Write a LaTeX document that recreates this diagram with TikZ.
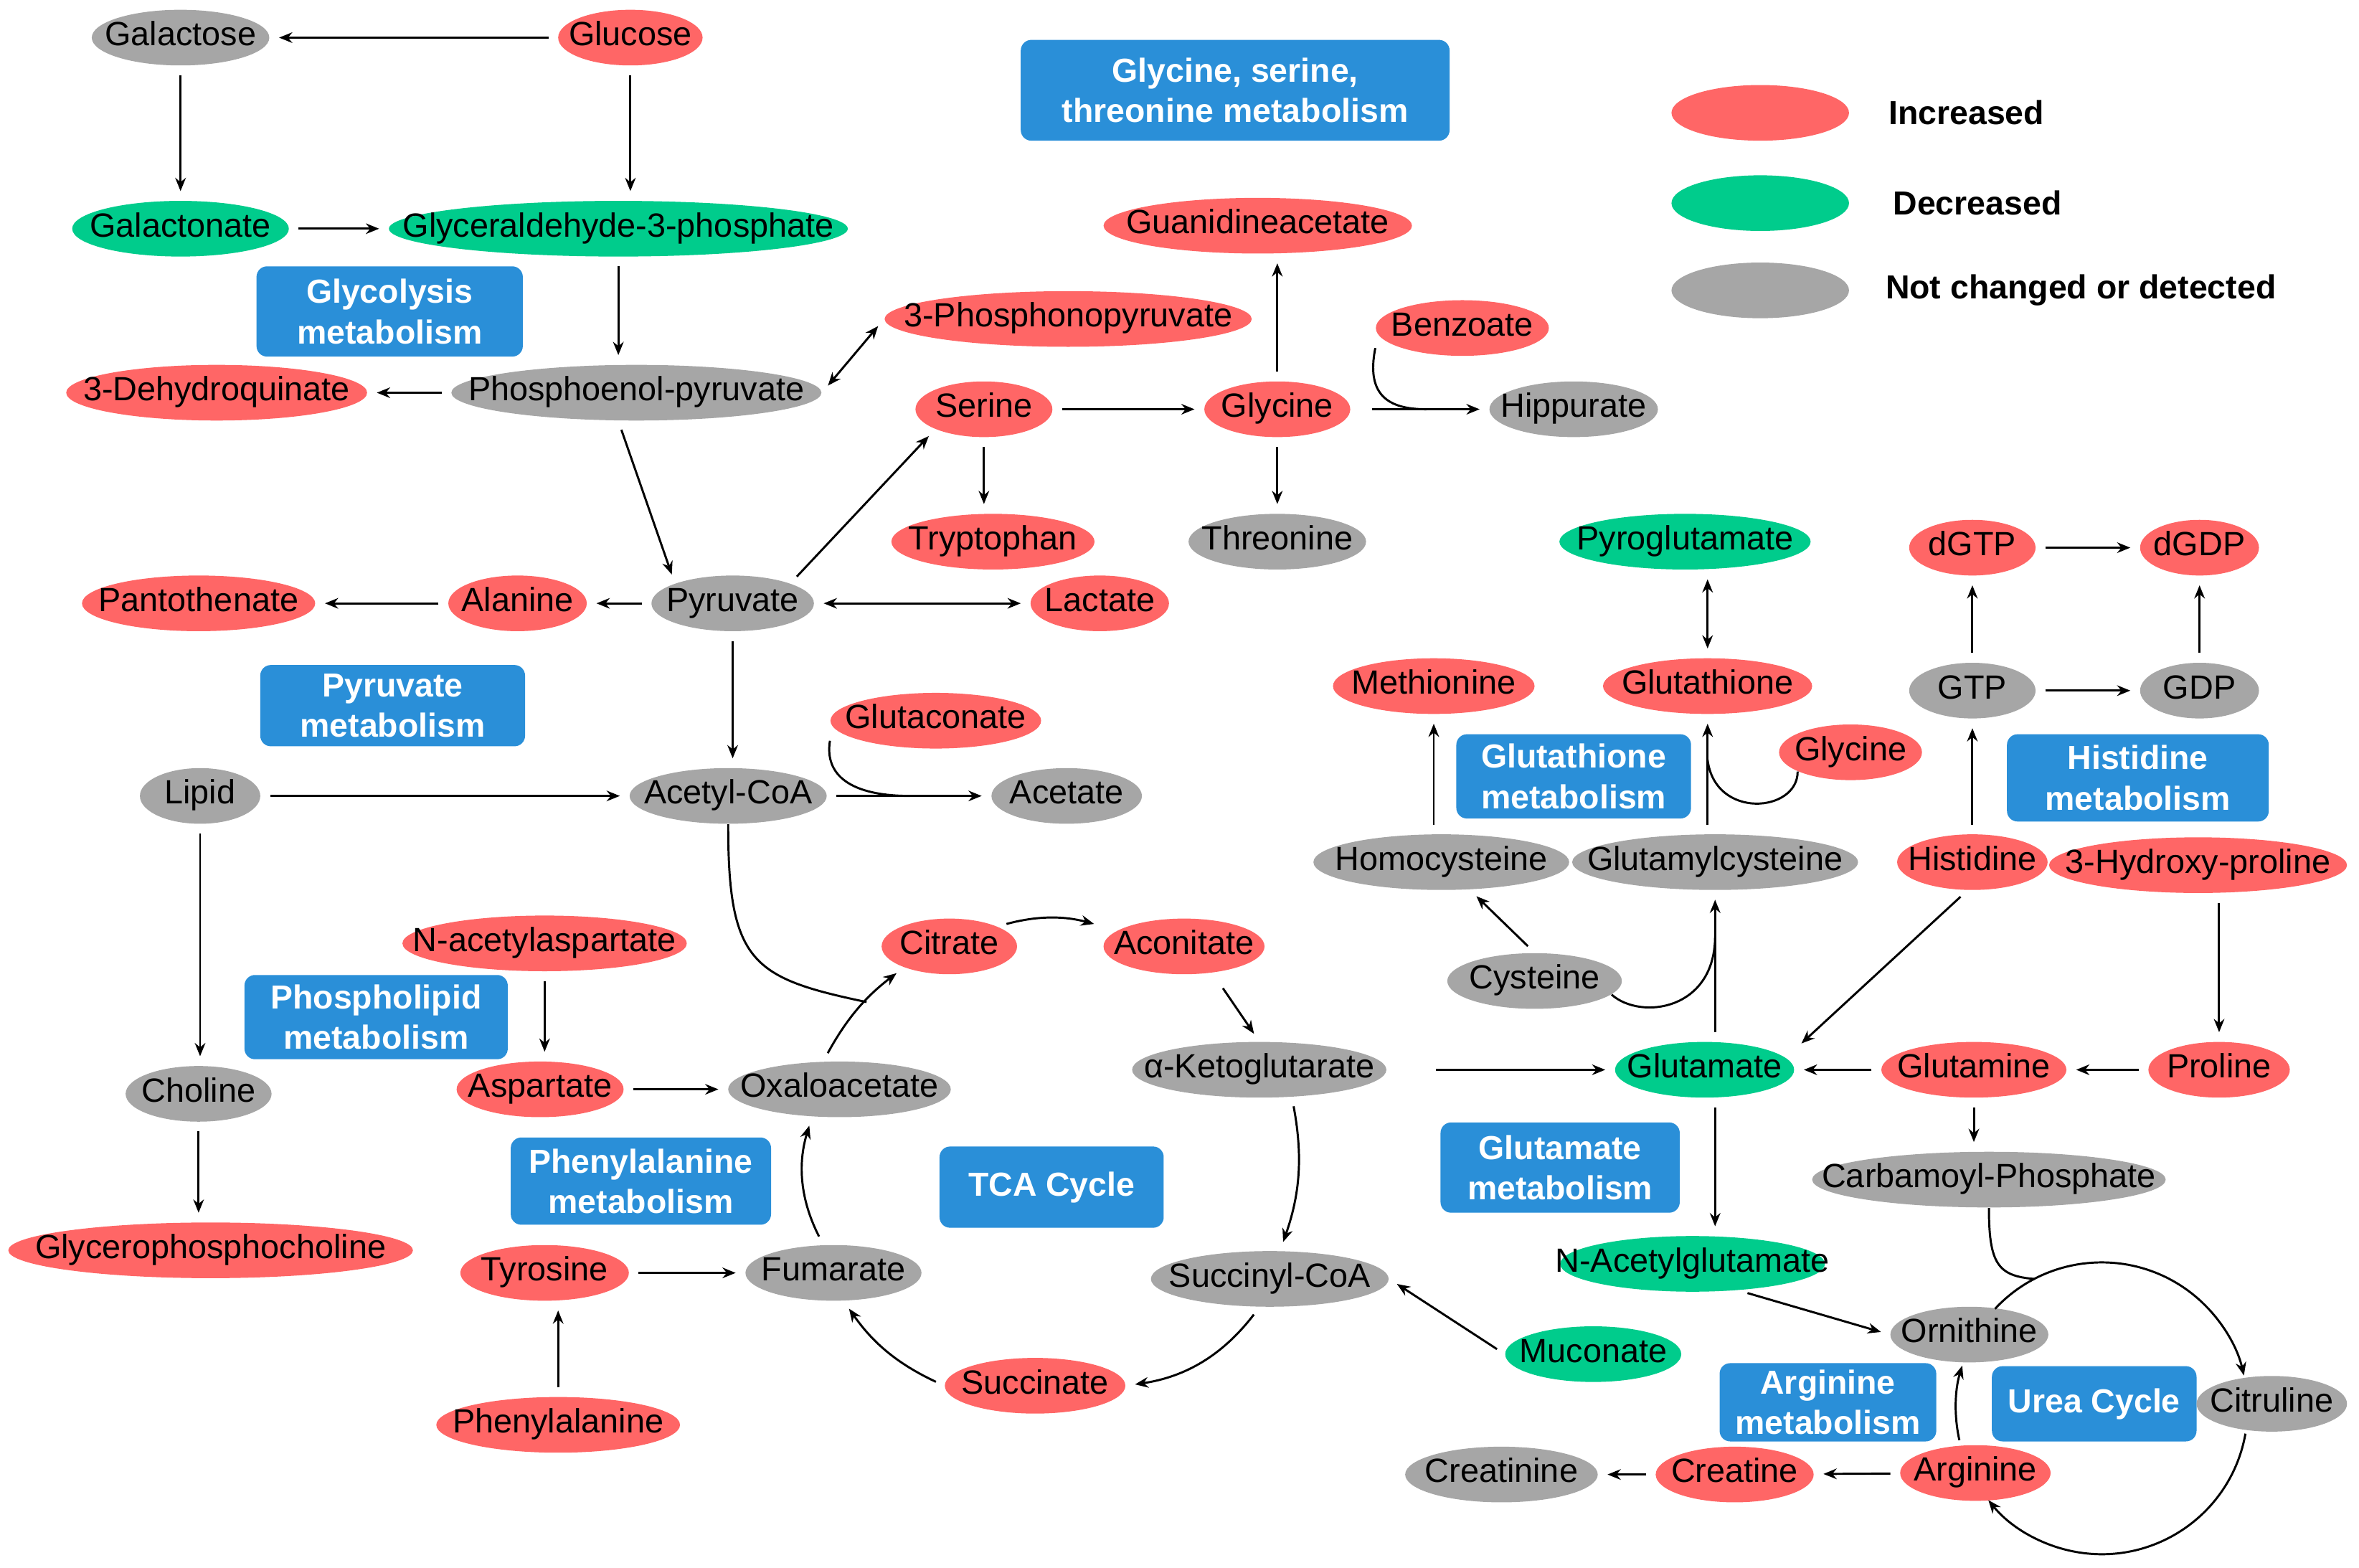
\documentclass[tikz,border=0pt]{standalone}
\usepackage{fontspec}
\setmainfont{Liberation Sans}
\usepackage{tikz}
\usetikzlibrary{arrows.meta,shapes.geometric}
\definecolor{mbUp}{RGB}{255,102,102}
\definecolor{mbDown}{RGB}{0,204,140}
\definecolor{mbFlat}{RGB}{166,166,166}
\definecolor{mbPath}{RGB}{42,143,216}
\newcommand{\metfont}{\fontsize{12.7}{15}\selectfont}
\newcommand{\pathfont}{\bfseries\fontsize{12.6}{15.3}\selectfont}

\begin{document}
\begin{tikzpicture}[x=0.02cm,y=-0.02cm,
    met/.style={ellipse, inner sep=0pt, minimum height=0.74cm, text height=1.6ex, text depth=0.45ex, font=\metfont,
        execute at begin node={\hbox to 0pt\bgroup\hss}, execute at end node={\hss\egroup}},
    ew/.style={minimum width=#1*0.02cm},
    incr/.style={met, fill=mbUp, ew=#1},
    decr/.style={met, fill=mbDown, ew=#1},
    nochg/.style={met, fill=mbFlat, ew=#1},
    pbox/.style n args={2}{fill=mbPath, text=white, font=\pathfont, align=center, rounded corners=4pt,
        inner sep=0pt, minimum width=#1*0.02cm, minimum height=#2*0.02cm},
    lgtext/.style={font=\pathfont, inner sep=0pt, anchor=west},
    rx/.style={line width=0.8pt, -{Stealth[length=5pt,width=4pt]}, shorten >=3.5pt, shorten <=3.5pt},
    rxx/.style={rx, {Stealth[length=5pt,width=4pt]}-{Stealth[length=5pt,width=4pt]}},
    cyc/.style={line width=0.8pt, -{Stealth[length=5pt,width=4pt]}},
    lk/.style={line width=0.8pt}]
    \useasboundingbox (0,0) rectangle (1568,1042);

    % legend
    \node[incr=118] (lgup) at (1170,75) {};
    \node[decr=118] (lgdown) at (1170,135) {};
    \node[nochg=118] (lgflat) at (1170,193) {};
    \node[lgtext] (lguptxt) at (1255,75) {Increased};
    \node[lgtext] (lgdowntxt) at (1258,135) {Decreased};
    \node[lgtext] (lgflattxt) at (1253,193) {Not changed or detected};

    % pathway boxes
    \node[pbox={285}{67}] (bxgst) at (821,60) {Glycine, serine,\\threonine metabolism};
    \node[pbox={177}{60}] (bxglyco) at (259,207) {Glycolysis\\metabolism};
    \node[pbox={176}{54}] (bxpyr) at (261,469) {Pyruvate\\metabolism};
    \node[pbox={156}{56}] (bxgsh) at (1046,516) {Glutathione\\metabolism};
    \node[pbox={174}{58}] (bxhis) at (1421,517) {Histidine\\metabolism};
    \node[pbox={175}{56}] (bxpl) at (250,676) {Phospholipid\\metabolism};
    \node[pbox={173}{58}] (bxphe) at (426,785) {Phenylalanine\\metabolism};
    \node[pbox={149}{54}] (bxtca) at (699,789) {TCA Cycle};
    \node[pbox={159}{60}] (bxglu) at (1037,776) {Glutamate\\metabolism};
    \node[pbox={144}{52}] (bxarg) at (1215,932) {Arginine\\metabolism};
    \node[pbox={136}{50}] (bxurea) at (1392,933) {Urea Cycle};

    % glycolysis
    \node[nochg=118] (galactose) at (120,25) {Galactose};
    \node[incr=96] (glucose) at (419,25) {Glucose};
    \node[decr=144] (galactonate) at (120,152) {Galactonate};
    \node[decr=305] (gap) at (411,152) {Glyceraldehyde-3-phosphate};
    \node[nochg=246] (pep) at (423,261) {Phosphoenol-pyruvate};
    \node[incr=200] (dhq) at (144,261) {3-Dehydroquinate};
    \node[incr=244] (ppyr) at (710,212) {3-Phosphonopyruvate};

    % glycine, serine, threonine
    \node[incr=205] (guan) at (836,150) {Guanidineacetate};
    \node[incr=115] (benz) at (972,218) {Benzoate};
    \node[incr=91] (serine) at (654,272) {Serine};
    \node[incr=97] (glycine) at (849,272) {Glycine};
    \node[nochg=112] (hipp) at (1046,272) {Hippurate};
    \node[incr=135] (trp) at (660,360) {Tryptophan};
    \node[nochg=118] (thr) at (849,360) {Threonine};

    % pyruvate
    \node[incr=155] (panto) at (132,401) {Pantothenate};
    \node[incr=92] (ala) at (344,401) {Alanine};
    \node[nochg=108] (pyr) at (487,401) {Pyruvate};
    \node[incr=92] (lac) at (731,401) {Lactate};
    \node[incr=140] (glutacon) at (622,479) {Glutaconate};
    \node[nochg=80] (lipid) at (133,529) {Lipid};
    \node[nochg=131] (accoa) at (484,529) {Acetyl-CoA};
    \node[nochg=100] (acetate) at (709,529) {Acetate};

    % phospholipid
    \node[nochg=97] (choline) at (132,727) {Choline};
    \node[incr=269] (gpc) at (140,831) {Glycerophosphocholine};

    % TCA cycle
    \node[incr=189] (naa) at (362,627) {N-acetylaspartate};
    \node[incr=111] (asp) at (359,724) {Aspartate};
    \node[nochg=148] (oaa) at (558,724) {Oxaloacetate};
    \node[incr=90] (citrate) at (631,629) {Citrate};
    \node[incr=107] (aconitate) at (787,629) {Aconitate};
    \node[nochg=169] (akg) at (837,711) {α-Ketoglutarate};
    \node[nochg=158] (succoa) at (844,850) {Succinyl-CoA};
    \node[incr=120] (succ) at (688,921) {Succinate};
    \node[nochg=117] (fum) at (554,846) {Fumarate};
    \node[incr=112] (tyr) at (362,846) {Tyrosine};
    \node[incr=162] (phe) at (371,947) {Phenylalanine};
    \node[decr=117] (mucon) at (1059,900) {Muconate};

    % glutathione, glutamate
    \node[decr=167] (pyroglu) at (1120,360) {Pyroglutamate};
    \node[incr=134] (met) at (953,456) {Methionine};
    \node[incr=139] (gsh) at (1135,456) {Glutathione};
    \node[incr=95] (glycineb) at (1230,500) {Glycine};
    \node[nochg=170] (hcys) at (958,573) {Homocysteine};
    \node[nochg=190] (gcys) at (1140,573) {Glutamylcysteine};
    \node[nochg=116] (cys) at (1020,652) {Cysteine};
    \node[decr=119] (glu) at (1133,711) {Glutamate};
    \node[decr=176] (nag) at (1125,840) {N-Acetylglutamate};

    % histidine
    \node[incr=84] (dgtp) at (1311,364) {dGTP};
    \node[incr=79] (dgdp) at (1462,364) {dGDP};
    \node[nochg=84] (gtp) at (1311,459) {GTP};
    \node[nochg=79] (gdp) at (1462,459) {GDP};
    \node[incr=100] (his) at (1311,573) {Histidine};
    \node[incr=198] (hypro) at (1461,575) {3-Hydroxy-proline};
    \node[incr=123] (gln) at (1312,711) {Glutamine};
    \node[incr=94] (pro) at (1475,711) {Proline};
    \node[nochg=235] (cp) at (1322,784) {Carbamoyl-Phosphate};

    % urea cycle, arginine
    \node[nochg=105] (orn) at (1309,887) {Ornithine};
    \node[nochg=100] (cit) at (1510,933) {Citruline};
    \node[incr=100] (arg) at (1313,979) {Arginine};
    \node[incr=105] (cr) at (1153,980) {Creatine};
    \node[nochg=128] (crn) at (998,980) {Creatinine};
    \coordinate (ureac) at (1397,936);

    % glycolysis arrows
    \draw[rx] (glucose) -- (galactose);
    \draw[rx] (galactose) -- (galactonate);
    \draw[rx] (glucose) -- (glucose |- gap.north);
    \draw[rx] (galactonate) -- (gap);
    \draw[rx] (gap) -- (gap |- pep.north);
    \draw[rx] (pep) -- (dhq);
    \draw[rxx] (pep.east) -- (ppyr.west);
    \draw[rx] (pep.south -| gap) -- (pyr.north west);

    % glycine, serine, threonine arrows
    \draw[rx] (pyr.north east) -- (serine.south west);
    \draw[rx] (serine) -- (glycine);
    \draw[rx] (serine) -- (serine |- trp.north);
    \draw[rx] (glycine) -- (glycine |- guan.south);
    \draw[rx] (glycine) -- (thr);
    \draw[rx, shorten <=8pt] (glycine) -- (hipp);
    \draw[lk] (benz.west |- benz.south west) .. controls (908,262) and (922,272) .. (948,272);

    % pyruvate arrows
    \draw[rx] (pyr) -- (ala);
    \draw[rx] (ala) -- (panto);
    \draw[rxx] (pyr) -- (lac);
    \draw[rx] (pyr) -- (pyr |- accoa.north);
    \draw[rx] (lipid) -- (accoa);
    \draw[rx] (accoa) -- (acetate);
    \draw[lk] (glutacon.west |- glutacon.south west) .. controls (548,515) and (565,529) .. (605,529);
    \draw[lk] (accoa.south) .. controls (484,640) and (500,650) .. (576,666);

    % phospholipid arrows
    \draw[rx] (lipid) -- (lipid |- choline.north);
    \draw[rx] (choline) -- (choline |- gpc.north);

    % TCA cycle arrows
    \draw[rx] (naa) -- (naa |- asp.north);
    \draw[rx] (asp) -- (oaa);
    \draw[rx] (tyr) -- (fum);
    \draw[rx] (phe) -- (phe |- tyr.south);
    \draw[rx] (oaa.120) to[bend left=12] (citrate.-155);
    \draw[rx] (citrate.north east) to[bend left=15] (aconitate.west |- citrate.north east);
    \draw[rx, shorten <=7pt] (aconitate.-43) -- (akg.north);
    \draw[rx] (akg.-40) to[bend left=15] (succoa.70);
    \draw[rx] (succoa.-110) to[bend left=22] (succ.east);
    \draw[rx] (succ.west) to[bend left=15] (fum.-70);
    \draw[rx] (fum.110) to[bend left=22] (oaa.-135);
    \draw[rx] (mucon.west) -- (succoa.east);

    % glutamate arrows
    \draw[rx, shorten <=18.5pt] (akg) -- (glu);
    \draw[rx] (gln) -- (glu);
    \draw[rx] (pro) -- (gln);
    \draw[rx] (hypro.south -| pro) -- (pro);
    \draw[rx] (his.-100) -- (glu.east |- glu.north east);
    \draw[rx] (gln) -- (gln |- cp.north);

    % histidine arrows
    \draw[rx] (his) -- (gtp);
    \draw[rx] (gtp) -- (dgtp);
    \draw[rx] (gtp) -- (gdp);
    \draw[rx] (gdp) -- (dgdp);
    \draw[rx] (dgtp) -- (dgdp);

    % glutathione arrows
    \draw[rx] (glu.north -| gcys) -- (gcys);
    \draw[rx] (glu.south -| gcys) -- (gcys |- nag.north);
    \draw[rx] (gcys.north -| gsh) -- (gsh);
    \draw[rxx] (gsh) -- (gsh |- pyroglu.south);
    \draw[rx] (hcys.north -| met) -- (met);
    \draw[rx] (cys.north) -- (hcys);
    \draw[lk] (cys.-10) .. controls (1090,678) and (1140,672) .. (1140,622);
    \draw[lk] (glycineb.-160) .. controls (1195,540) and (1140,545) .. (1135,505);

    % urea cycle
    \draw[rx] (nag.-30) -- (orn.west);
    \draw[cyc] ([shift={(137:1.94cm)}]ureac) arc[start angle=137, end angle=13, radius=1.94cm];
    \draw[cyc] ([shift={(-10:1.94cm)}]ureac) arc[start angle=-10, end angle=-141, radius=1.94cm];
    \draw[cyc] ([shift={(192.6:1.94cm)}]ureac) arc[start angle=192.6, end angle=163, radius=1.94cm];
    \draw[lk] (cp.south) .. controls (1322,840) and (1328,848) .. (1352,850);
    \draw[rx] (arg) -- (cr);
    \draw[rx] (cr) -- (crn);
\end{tikzpicture}
\end{document}
